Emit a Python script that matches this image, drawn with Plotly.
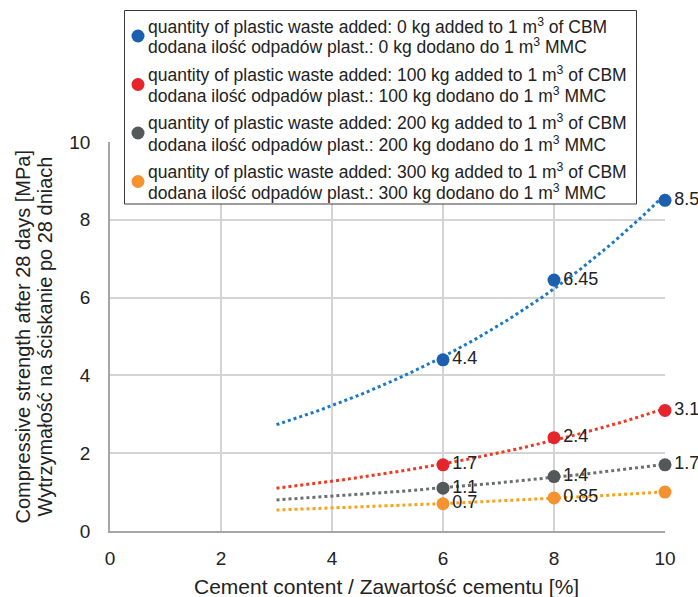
import numpy as np
import plotly.graph_objects as go

# Cement content [%]
cement = [6, 8, 10]

# Compressive strength after 28 days [MPa] for each plastic-waste dosage
strength_0kg = [4.4, 6.45, 8.5]
strength_100kg = [1.7, 2.4, 3.1]
strength_200kg = [1.1, 1.4, 1.7]
strength_300kg = [0.7, 0.85, 1.0]

labels_0kg = ["4.4", "6.45", "8.5"]
labels_100kg = ["1.7", "2.4", "3.1"]
labels_200kg = ["1.1", "1.4", "1.7"]
labels_300kg = ["0.7", "0.85", ""]

dosages = ["0", "100", "200", "300"]

x_title = "Cement content / Zawartość cementu [%]"
y_title_en = "Compressive strength after 28 days [MPa]"
y_title_pl = "Wytrzymałość na ściskanie po 28 dniach"

series = [
    (strength_0kg, labels_0kg, "#1b5fae", "#1a78c8"),
    (strength_100kg, labels_100kg, "#e5242b", "#ee3a22"),
    (strength_200kg, labels_200kg, "#535859", "#6b6f70"),
    (strength_300kg, labels_300kg, "#f4922f", "#f9a11c"),
]

FONT = "Liberation Sans, Arial, sans-serif"
TEXT = "#222222"

W, H = 698, 597
L, R, T, B = 110, 33, 142, 66
PW, PH = W - L - R, H - T - B


def px_x(px):
    return (px - L) / PW


def px_y(py):
    return (T + PH - py) / PH


fig = go.Figure()

# exponential trendlines fitted to each series, drawn from 3 % to 10 %
x_fit = np.linspace(3, 10, 80)
for values, _, _, line_color in series:
    b, ln_a = np.polyfit(cement, np.log(values), 1)
    fig.add_trace(go.Scatter(
        x=x_fit, y=np.exp(ln_a + b * x_fit), mode="lines",
        line=dict(color=line_color, width=3, dash="dot"),
        showlegend=False, hoverinfo="skip",
    ))

for values, labels, marker_color, _ in series:
    fig.add_trace(go.Scatter(
        x=cement, y=values, mode="markers+text",
        marker=dict(color=marker_color, size=13),
        text=labels, textposition="middle right",
        textfont=dict(family=FONT, size=18, color=TEXT),
        cliponaxis=False, showlegend=False,
    ))

# legend box drawn over the top of the plot area
shapes = [dict(
    type="rect", xref="paper", yref="paper", layer="above",
    x0=px_x(124.5), x1=px_x(636.5), y0=px_y(204), y1=px_y(10.5),
    line=dict(color="#3a3a3a", width=1), fillcolor="white",
)]
annotations = []
entry_centers = [36, 84.5, 133, 181.5]
for (values, _, marker_color, _), dose, cy in zip(series, dosages, entry_centers):
    shapes.append(dict(
        type="circle", xref="paper", yref="paper", layer="above",
        x0=px_x(131.5), x1=px_x(144.5), y0=px_y(cy + 6.5), y1=px_y(cy - 6.5),
        line=dict(width=0), fillcolor=marker_color,
    ))
    lines = [
        f"quantity of plastic waste added: {dose} kg added to 1 m<sup>3</sup> of CBM",
        f"dodana ilość odpadów plast.: {dose} kg dodano do 1 m<sup>3</sup> MMC",
    ]
    for text, dy in zip(lines, (-10.5, 10.5)):
        annotations.append(dict(
            text=text, xref="paper", yref="paper", x=px_x(146), y=px_y(cy + dy),
            xanchor="left", yanchor="middle", showarrow=False,
            font=dict(family=FONT, size=17.5, color=TEXT),
        ))

# two-line vertical axis title
for text, px in ((y_title_en, 22), (y_title_pl, 44)):
    annotations.append(dict(
        text=text, xref="paper", yref="paper", x=px_x(px), y=0.5,
        xanchor="center", yanchor="middle", textangle=-90, showarrow=False,
        font=dict(family=FONT, size=20, color=TEXT),
    ))

# horizontal axis title
annotations.append(dict(
    text=x_title, xref="paper", yref="paper", x=px_x(386), y=px_y(586),
    xanchor="center", yanchor="middle", showarrow=False,
    font=dict(family=FONT, size=21, color=TEXT),
))

fig.update_layout(
    width=W, height=H,
    margin=dict(l=L, r=R, t=T, b=B),
    paper_bgcolor="white", plot_bgcolor="white",
    font=dict(family=FONT, size=19, color=TEXT),
    showlegend=False,
    shapes=shapes,
    annotations=annotations,
    xaxis=dict(
        range=[0, 10], dtick=2, showgrid=True, gridcolor="#d4d4d4", gridwidth=1.5,
        showline=True, linecolor="#a6a6a6", linewidth=1.5, zeroline=False,
        ticks="", tickfont=dict(size=19), ticklabelstandoff=9, automargin=False,
    ),
    yaxis=dict(
        range=[0, 10], dtick=2, showgrid=True, gridcolor="#d4d4d4", gridwidth=1.5,
        showline=True, linecolor="#a6a6a6", linewidth=1.5, zeroline=False,
        ticks="", tickfont=dict(size=19), ticklabelstandoff=14, automargin=False,
    ),
)

fig.write_html("out.html")
